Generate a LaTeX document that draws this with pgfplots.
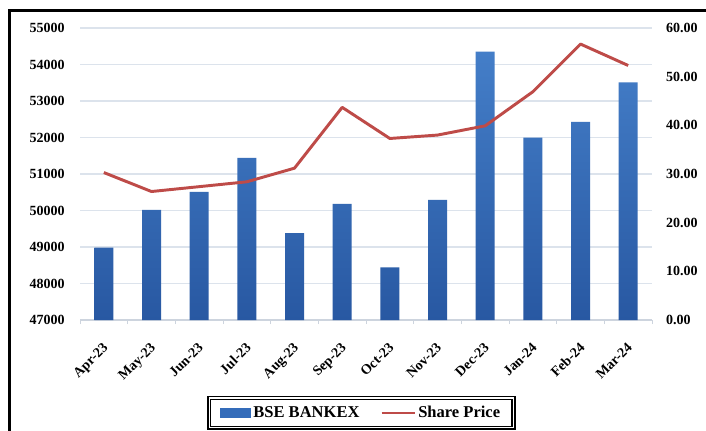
\documentclass[border=0pt]{standalone}
\usepackage{pgfplots}
\pgfplotsset{compat=1.18}
\usepackage{fontspec}
\setmainfont{Liberation Serif}
\definecolor{bartop}{RGB}{68,126,200}
\definecolor{barbot}{RGB}{40,88,162}
\definecolor{barleg}{RGB}{52,108,186}
\definecolor{priceline}{RGB}{190,75,72}
\definecolor{gridc}{RGB}{220,227,236}
\definecolor{axisc}{RGB}{205,212,222}
\begin{document}
\begin{tikzpicture}
% picture is 706 x 431 px, 1 px = 0.75pt
\useasboundingbox (0,0) rectangle (529.5pt,-323.25pt);
\fill[white] (0,0) rectangle (529.5pt,-323.25pt);
\draw[line width=2.2pt] (7pt,-340pt) -- (7pt,-8pt) -- (540pt,-8pt);

\begin{axis}[
    at={(60pt,-240pt)}, anchor=south west,
    scale only axis, width=429pt, height=219pt,
    xmin=-0.5, xmax=11.5,
    ymin=47000, ymax=55000,
    ytick={47000,48000,...,55000},
    xtick={0,...,11},
    xticklabels={Apr-23,May-23,Jun-23,Jul-23,Aug-23,Sep-23,Oct-23,Nov-23,Dec-23,Jan-24,Feb-24,Mar-24},
    minor xtick={-0.5,0.5,...,11.5},
    axis x line*=bottom, axis y line*=left,
    y axis line style={draw=none},
    x axis line style={draw=axisc, line width=0.8pt},
    major tick length=0pt, minor tick length=3pt,
    tick align=outside,
    minor tick style={draw=axisc, line width=0.6pt},
    ymajorgrids, grid style={draw=gridc, line width=0.8pt},
    scaled y ticks=false,
    /pgf/number format/assume math mode=true,
    yticklabel={\pgfmathprintnumber[fixed,1000 sep={}]{\tick}},
    ticklabel style={font=\bfseries\fontsize{10.5}{12}\selectfont},
    yticklabel style={xshift=-8pt},
    % shifts act in the rotated frame
    xticklabel style={rotate=45, anchor=north east, xshift=-9pt, yshift=-7pt},
    ybar, bar width=14.25pt,
]
\addplot[draw=none, top color=bartop, bottom color=barbot] coordinates {
(0,48980) (1,50020) (2,50510) (3,51440) (4,49380) (5,50180)
(6,48440) (7,50290) (8,54350) (9,52000) (10,52430) (11,53510)
};
\end{axis}

\begin{axis}[
    at={(60pt,-240pt)}, anchor=south west,
    scale only axis, width=429pt, height=219pt,
    xmin=-0.5, xmax=11.5,
    ymin=0, ymax=60,
    ytick={0,10,...,60},
    axis y line*=right, axis x line=none,
    y axis line style={draw=none},
    major tick length=0pt,
    /pgf/number format/assume math mode=true,
    yticklabel={\pgfmathprintnumber[fixed,fixed zerofill,precision=2]{\tick}},
    ticklabel style={font=\bfseries\fontsize{10.5}{12}\selectfont},
    yticklabel style={anchor=west, xshift=7pt},
    legend columns=2,
    legend style={at={(0.492,-0.318)}, anchor=center,
        draw=black, line width=1pt, double=white, double distance=1.1pt,
        font=\bfseries\fontsize{12.4}{14}\selectfont,
        inner xsep=8pt, inner ysep=4pt,
        /tikz/every even column/.append style={column sep=14pt}},
]
\addlegendimage{legend image code/.code={\fill[barleg] (0pt,-3pt) rectangle (22pt,3.5pt);}}
\addlegendentry{BSE BANKEX}
\addplot[priceline, line width=2.2pt, line join=round,
    legend image code/.code={\draw[priceline, line width=1.1pt] (0pt,0pt) -- (25pt,0pt);}]
    coordinates {
(0,30.3) (1,26.4) (2,27.4) (3,28.4) (4,31.2) (5,43.7)
(6,37.3) (7,38.0) (8,39.9) (9,46.9) (10,56.7) (11,52.3)
};
\addlegendentry{Share Price}
\end{axis}
\end{tikzpicture}
\end{document}
